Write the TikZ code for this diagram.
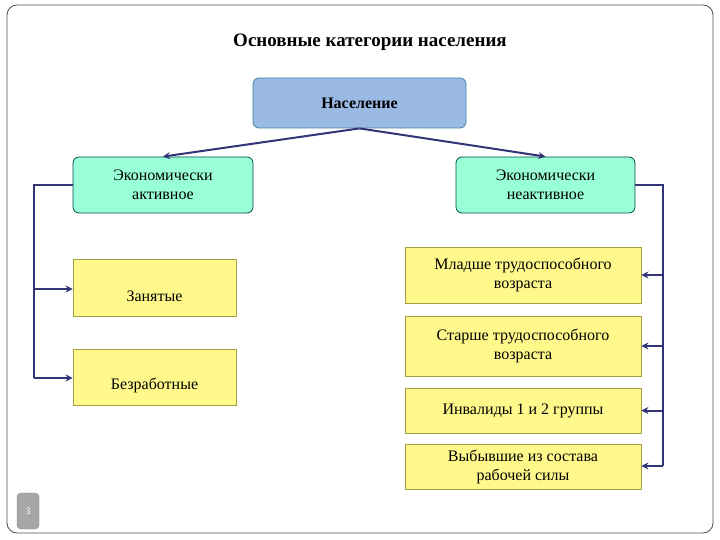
\documentclass[tikz,border=0pt]{standalone}
\usepackage{fontspec}
\setmainfont{Liberation Serif}
\usetikzlibrary{arrows.meta}
\begin{document}
\begin{tikzpicture}[x=1pt,y=-1pt,
 box/.style={draw=#1!60!black,line width=0.8pt,inner sep=0pt,align=center,font=\fontsize{16}{19}\selectfont},
 rbox/.style={box=#1,rounded corners=6pt},
 link/.style={draw=black!55!blue!60!gray,line width=2pt,-{Stealth[length=7pt,width=7pt]}},
 brk/.style={draw=black!55!blue!60!gray,line width=2pt}]
\useasboundingbox (0,0) rectangle (720,540);
\draw[black!70,line width=0.8pt,rounded corners=10pt] (7,5) rectangle (713,533);
\node[font=\bfseries\fontsize{19}{22}\selectfont] (title) at (370,42) {Основные категории населения};
\node[rbox=cyan,fill=cyan!55!blue!40,minimum width=213pt,minimum height=50pt,font=\bfseries\fontsize{16}{19}\selectfont] (pop) at (359.5,103) {Население};
\node[rbox=teal,fill=green!40!cyan!40,minimum width=180pt,minimum height=56pt] (act) at (163,185) {Экономически\\активное};
\node[rbox=teal,fill=green!40!cyan!40,minimum width=179pt,minimum height=56pt] (inact) at (545.5,185) {Экономически\\неактивное};
\node[box=yellow,fill=yellow!45,minimum width=163pt,minimum height=57pt,text height=28pt] (emp) at (154.5,287.5) {Занятые};
\node[box=yellow,fill=yellow!45,minimum width=163pt,minimum height=56pt,text height=28pt] (unemp) at (154.5,377) {Безработные};
\node[box=yellow,fill=yellow!45,minimum width=236pt,minimum height=56pt] (r1) at (523,275) {Младше трудоспособного\\возраста};
\node[box=yellow,fill=yellow!45,minimum width=236pt,minimum height=60pt] (r2) at (523,346) {Старше трудоспособного\\возраста};
\node[box=yellow,fill=yellow!45,minimum width=236pt,minimum height=45pt] (r3) at (523,410.5) {Инвалиды 1 и 2 группы};
\node[box=yellow,fill=yellow!45,minimum width=236pt,minimum height=45pt] (r4) at (523,466.5) {Выбывшие из состава\\рабочей силы};
\draw[link] (pop.south) -- (act.north);
\draw[link] (pop.south) -- (inact.north);
\coordinate (lt) at (34,185); \coordinate (lb) at (34,378);
\draw[brk] (act.west) -- (lt) -- (lb);
\draw[link] (34,289) -- (emp.west |- 0,289);
\draw[link] (lb) -- (unemp.west |- lb);
\coordinate (rt) at (663,185); \coordinate (rb) at (663,466);
\draw[brk] (inact.east) -- (rt) -- (rb);
\foreach \n in {r1,r2,r3} \draw[link] (rt |- \n.east) -- (\n.east);
\draw[link] (rb) -- (r4.east |- rb);
\node[fill=gray!70,draw=gray,rounded corners=4pt,minimum width=22pt,minimum height=36pt,text=white,font=\sffamily\fontsize{10}{12}\selectfont] (pg) at (28,511) {3};
\end{tikzpicture}
\end{document}
